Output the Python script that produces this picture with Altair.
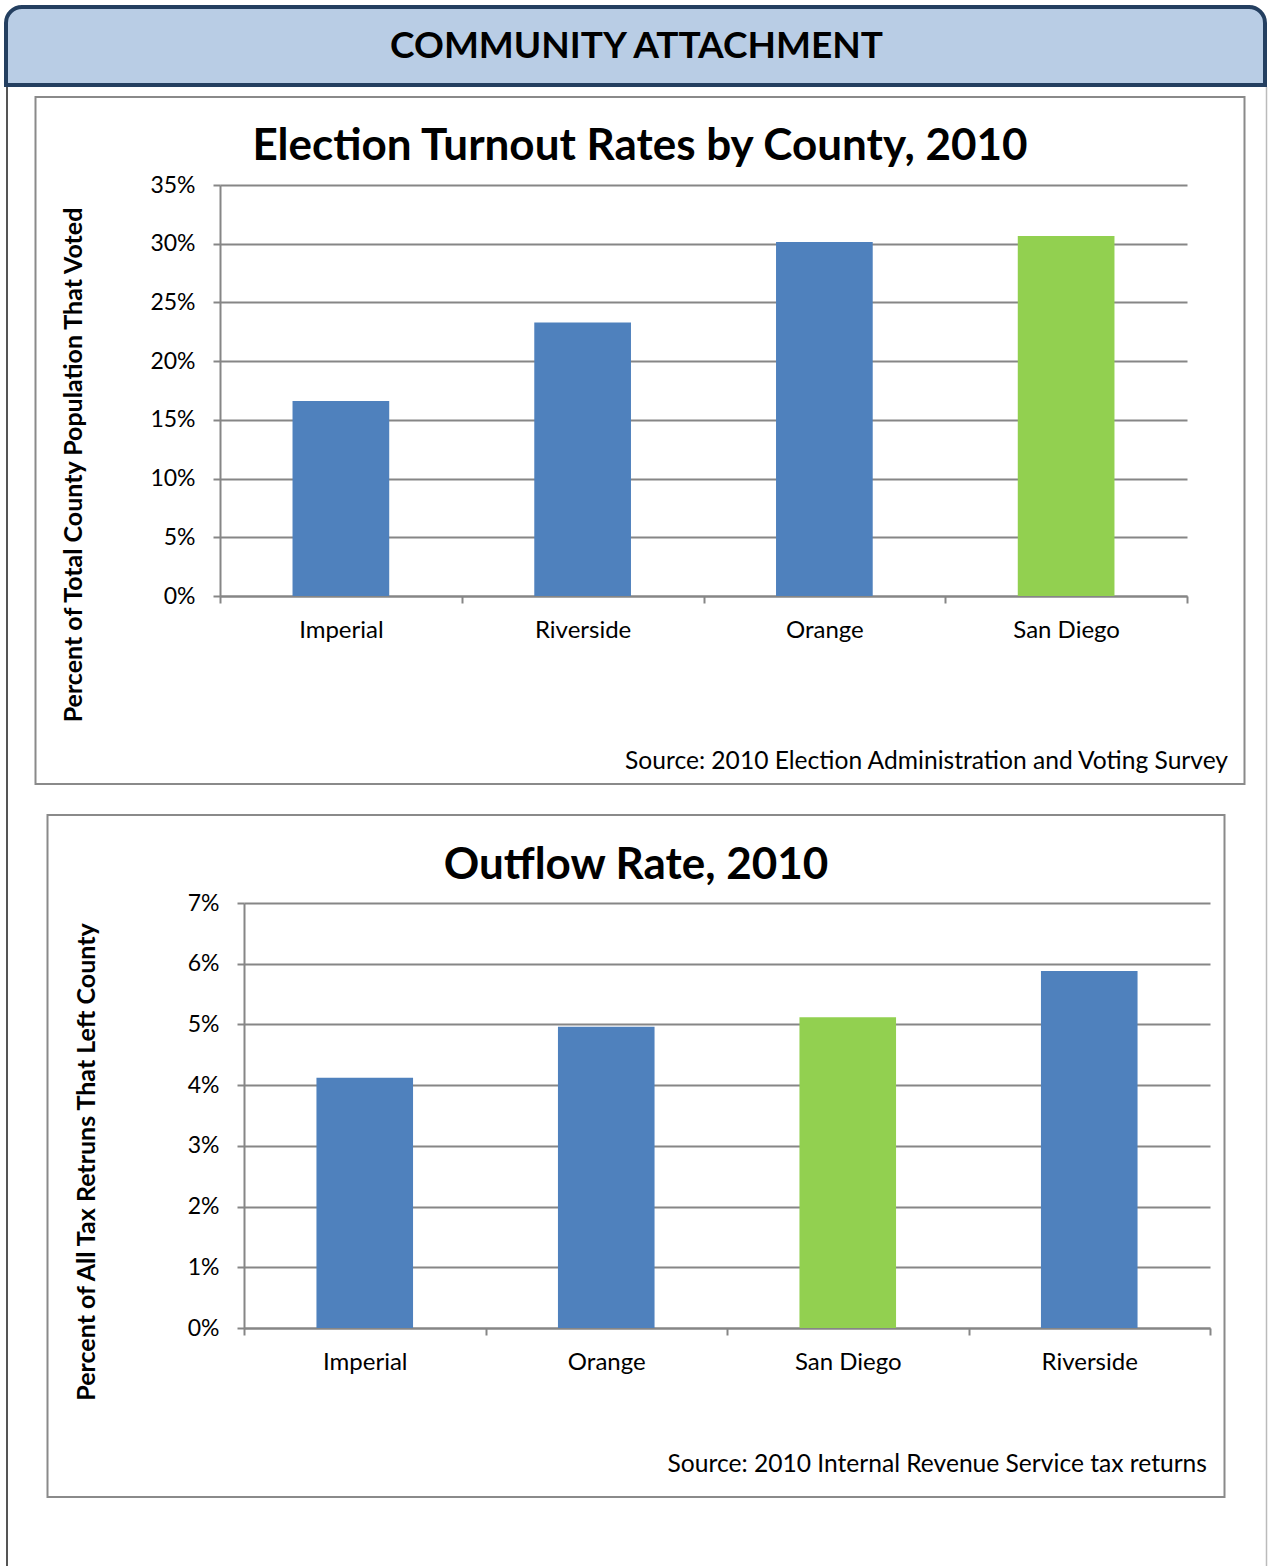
import altair as alt
import pandas as pd

FONT = "Lato"

# ---------------- data ----------------
turnout_counties = ["Imperial", "Riverside", "Orange", "San Diego"]
turnout_rates = [0.166, 0.233, 0.3015, 0.3066]
turnout_ticks = [0.0, 0.05, 0.10, 0.15, 0.20, 0.25, 0.30, 0.35]

outflow_counties = ["Imperial", "Orange", "San Diego", "Riverside"]
outflow_rates = [0.0412, 0.0496, 0.0512, 0.0588]
outflow_ticks = [0.0, 0.01, 0.02, 0.03, 0.04, 0.05, 0.06, 0.07]

highlight = "San Diego"
bar_colors = ["#4F81BD", "#92D050"]

header_text = "COMMUNITY ATTACHMENT"
title1 = "Election Turnout Rates by County, 2010"
ytitle1 = "Percent of Total County Population That Voted"
source1 = "Source: 2010 Election Administration and Voting Survey"
title2 = "Outflow Rate, 2010"
ytitle2 = "Percent of All Tax Retruns That Left County"
source2 = "Source: 2010 Internal Revenue Service tax returns"

GRID = "#868686"
one = pd.DataFrame({"k": [0]})


def deco():
    return alt.Chart(one)


def text(x, y, s, size, bold=False, align="center", angle=0):
    return deco().mark_text(
        text=s, fontSize=size, fontWeight="bold" if bold else "normal",
        align=align, baseline="middle", angle=angle, font=FONT, color="black"
    ).encode(x=alt.value(x), y=alt.value(y))


def rect(x, x2, y, y2, **kw):
    return deco().mark_rect(**kw).encode(
        x=alt.value(x), x2=alt.value(x2), y=alt.value(y), y2=alt.value(y2))


def bars(counties, rates, ticks):
    df = pd.DataFrame({
        "county": counties,
        "rate": rates,
        "group": ["hl" if c == highlight else "base" for c in counties],
    })
    return alt.Chart(df).mark_bar(width={"band": 0.4}).encode(
        x=alt.X("county:N", sort=counties,
                scale=alt.Scale(paddingInner=0, paddingOuter=0),
                axis=alt.Axis(title=None, labelAngle=0, tickBand="extent",
                              tickSize=7, tickWidth=2, domainWidth=2,
                              labelPadding=15, labelFontSize=24, grid=False)),
        y=alt.Y("rate:Q", scale=alt.Scale(domain=[0, ticks[-1]], nice=False),
                axis=alt.Axis(title=None, values=ticks, format=".0%",
                              tickSize=7, tickWidth=2, domainWidth=2,
                              grid=True, gridWidth=1.8, labelPadding=18,
                              labelFontSize=23)),
        color=alt.Color("group:N",
                        scale=alt.Scale(domain=["base", "hl"], range=bar_colors),
                        legend=None),
    )


# chart 1: origin at page (220, 185), plot 967 x 411
c1 = alt.layer(
    rect(-220, 1048, -185, 1381, fill="white", fillOpacity=0),
    rect(-214, 1045, -178, -100, fill="#B9CDE5", stroke="#243F60", strokeWidth=4,
         cornerRadiusTopLeft=16, cornerRadiusTopRight=16),
    deco().mark_rule(color="#555555", strokeWidth=2).encode(
        x=alt.value(-213), y=alt.value(-98), y2=alt.value(1381)),
    deco().mark_rule(color="#BBBBBB", strokeWidth=1.5).encode(
        x=alt.value(1046.5), y=alt.value(-98), y2=alt.value(1381)),
    rect(-184.5, 1024.5, -88, 599, fill="white", fillOpacity=0, stroke="#8A8A8A",
         strokeWidth=2),
    text(416.5, -138, header_text, 37, bold=True),
    text(420, -38, title1, 44, bold=True),
    text(-146, 280, ytitle1, 25, bold=True, angle=270),
    text(1008, 577, source1, 24.6, align="right"),
    bars(turnout_counties, turnout_rates, turnout_ticks),
).properties(width=967, height=411)

# chart 2: origin at page (244, 903), plot 966 x 425
c2 = alt.layer(
    rect(-196.5, 980.5, -88, 594, fill="white", fillOpacity=0, stroke="#8A8A8A",
         strokeWidth=2),
    text(392, -37, title2, 44, bold=True),
    text(-157, 259, ytitle2, 25, bold=True, angle=270),
    text(963, 562, source2, 24.6, align="right"),
    bars(outflow_counties, outflow_rates, outflow_ticks),
).properties(width=966, height=425)

spacer = alt.Chart(one).mark_point(opacity=0).properties(width=24, height=425)
row2 = alt.hconcat(spacer, c2, spacing=0, bounds="flush")

chart = alt.vconcat(c1, row2, spacing=307, bounds="flush").properties(
    padding=0, background="white"
).configure_view(stroke=None).configure_axis(
    domainColor=GRID, tickColor=GRID, gridColor=GRID,
    labelFont=FONT, labelFontSize=22, labelColor="black",
)

chart.save("out.html", embed_options={"renderer": "svg", "actions": False})
